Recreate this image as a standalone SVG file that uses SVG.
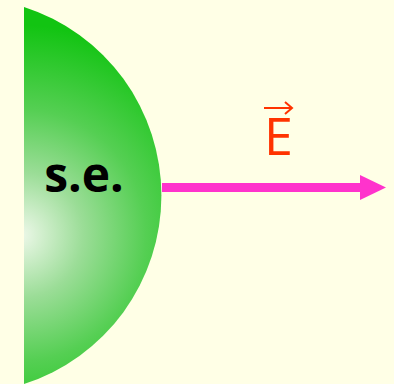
<svg xmlns="http://www.w3.org/2000/svg" width="394" height="384" viewBox="0 0 394 384">
  <defs>
    <radialGradient id="g" gradientUnits="userSpaceOnUse" cx="20" cy="235" r="210" fx="20" fy="235">
      <stop offset="0" stop-color="#EEF8EA"/>
      <stop offset="0.3" stop-color="#9BDD97"/>
      <stop offset="0.6" stop-color="#55CF53"/>
      <stop offset="1" stop-color="#12C412"/>
    </radialGradient>
    <marker id="ah" viewBox="0 0 26 25" refX="1" refY="12.5" markerWidth="26" markerHeight="25" markerUnits="userSpaceOnUse" orient="auto">
      <path d="M0,0 L26,12.5 L0,25 Z" fill="#FF33CC"/>
    </marker>
    <style>
      .lbl { font-family: "Open Sans", "Liberation Sans", sans-serif; }
    </style>
  </defs>
  <rect width="394" height="384" fill="#FFFFE6"/>
  <g id="sphere">
    <path d="M24,7 A198,198 0 0,1 24,384 Z" fill="url(#g)"/>
    <text class="lbl" x="84" y="192" font-size="48" font-weight="bold" text-anchor="middle" fill="#000">s.e.</text>
  </g>
  <g id="connectors">
    <line x1="162" y1="187.5" x2="361" y2="187.5" stroke="#FF33CC" stroke-width="9" marker-end="url(#ah)"/>
  </g>
  <g id="label-E">
    <text class="lbl" x="278.5" y="155" font-size="52" text-anchor="middle" fill="#FF3300">E</text>
    <path d="M264,108 H292 M285,102 L292,108 L285,114" fill="none" stroke="#FF3300" stroke-width="2"/>
  </g>
</svg>
